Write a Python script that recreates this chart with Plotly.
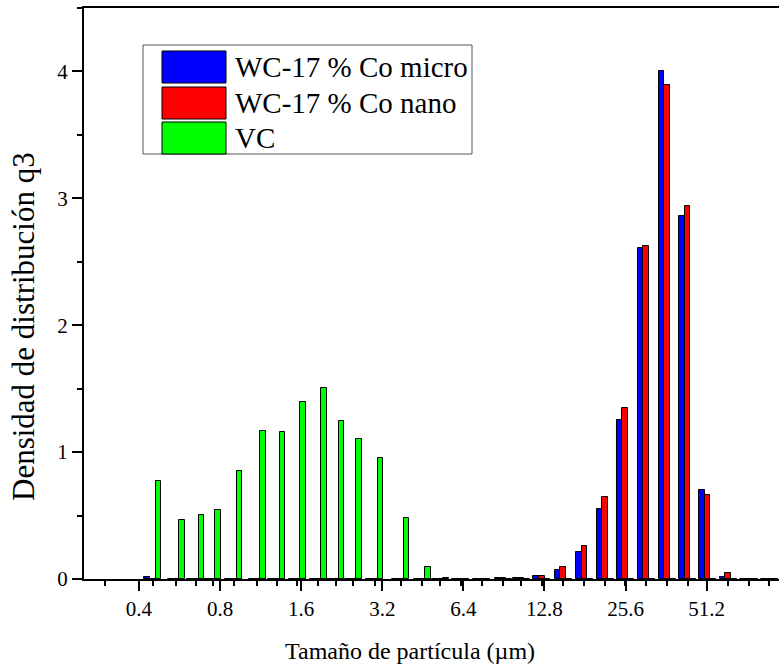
import numpy as np
import plotly.graph_objects as go

# Particle size classes (µm) and volume density distribution q3 per class
sizes = [0.45, 0.55, 0.65, 0.75, 0.90, 1.10, 1.30, 1.55, 1.85, 2.15, 2.50, 3.00,
         3.75, 4.50, 5.25, 6.25, 7.50, 9.00, 10.5, 12.5, 15.0, 18.0, 21.5, 25.5,
         30.5, 36.5, 43.5, 51.5, 61.5, 73.5, 87.5]

wc_micro = [0.012, 0, 0, 0, 0, 0, 0, 0, 0, 0, 0, 0,
            0, 0, 0, 0, 0.003, 0.006, 0.008, 0.026, 0.071, 0.21, 0.55, 1.25,
            2.61, 4.00, 2.86, 0.70, 0.018, 0, 0]

wc_nano = [0, 0, 0, 0, 0, 0, 0, 0, 0, 0, 0, 0,
           0, 0, 0, 0, 0.002, 0.004, 0.007, 0.024, 0.092, 0.262, 0.648, 1.344,
           2.622, 3.895, 2.94, 0.659, 0.045, 0, 0]

vc = [0.77, 0.465, 0.506, 0.54, 0.848, 1.163, 1.157, 1.394, 1.504, 1.244, 1.105, 0.95,
      0.478, 0.092, 0.004, 0, 0, 0, 0, 0, 0, 0, 0, 0,
      0, 0, 0, 0, 0, 0, 0]

series_names = ["WC-17 % Co micro", "WC-17 % Co nano", "VC"]
series_colors = ["#0000FF", "#FF0000", "#00FF00"]

tick_sizes = [0.4, 0.8, 1.6, 3.2, 6.4, 12.8, 25.6, 51.2]
tick_labels = ["0.4", "0.8", "1.6", "3.2", "6.4", "12.8", "25.6", "51.2"]
extra_minor = [0.3]

# Log2 size axis drawn on a linear scale of log2(size)
xpos = np.log2(sizes)
bar_w = 0.07
offsets = [-1.5 * bar_w, -0.5 * bar_w, 0.5 * bar_w]

FONT = "Liberation Serif"
W, H = 779, 670
L, R, T, B = 84, 0, 8, 91

fig = go.Figure()
for vals, name, col, off in zip([wc_micro, wc_nano, vc], series_names, series_colors, offsets):
    fig.add_trace(go.Bar(
        x=xpos, y=vals, name=name, width=bar_w, offset=off,
        marker=dict(color=col, line=dict(color="black", width=1)),
        showlegend=False,
    ))

# Legend box with large swatches
pw, ph = W - L - R, H - T - B
def px_x(p):
    return (p - L) / pw
def px_y(p):
    return (H - B - p) / ph

shapes = [dict(type="rect", xref="paper", yref="paper",
               x0=px_x(143), x1=px_x(472), y0=px_y(154), y1=px_y(45),
               line=dict(color="#555555", width=1), fillcolor="white", layer="above")]
annotations = []
row_tops = [51, 87, 122]
for top, name, col in zip(row_tops, series_names, series_colors):
    shapes.append(dict(type="rect", xref="paper", yref="paper",
                       x0=px_x(162), x1=px_x(226), y0=px_y(top + 32), y1=px_y(top),
                       line=dict(color="black", width=1), fillcolor=col, layer="above"))
    annotations.append(dict(xref="paper", yref="paper", x=px_x(233), y=px_y(top + 16),
                            text=name, showarrow=False, xanchor="left", yanchor="middle",
                            font=dict(family=FONT, size=29, color="black")))

annotations.append(dict(xref="paper", yref="paper", x=px_x(410), y=px_y(651),
                        text="Tamaño de partícula (µm)", showarrow=False,
                        xanchor="center", yanchor="middle",
                        font=dict(family=FONT, size=24, color="black")))
annotations.append(dict(xref="paper", yref="paper", x=px_x(23), y=px_y(327),
                        text="Densidad de distribución q3", showarrow=False, textangle=-90,
                        xanchor="center", yanchor="middle",
                        font=dict(family=FONT, size=31, color="black")))

minor_vals = list(np.log2(sizes)) + list(np.log2(extra_minor))

fig.update_layout(
    width=W, height=H,
    margin=dict(l=L, r=R, t=T, b=B, pad=0),
    paper_bgcolor="white", plot_bgcolor="white",
    barmode="overlay", bargap=0,
    shapes=shapes, annotations=annotations,
    font=dict(family=FONT, color="black"),
    xaxis=dict(
        range=[-2.0, -2.0 + pw / 81.1],
        tickmode="array", tickvals=list(np.log2(tick_sizes)), ticktext=tick_labels,
        ticks="outside", ticklen=10, tickwidth=2, tickcolor="black",
        showline=True, linecolor="black", linewidth=2, mirror=True,
        showgrid=False, zeroline=False,
        tickfont=dict(family=FONT, size=21, color="black"),
        minor=dict(tickmode="array", tickvals=minor_vals, ticks="outside",
                   ticklen=5, tickwidth=1.5, tickcolor="black", showgrid=False),
    ),
    yaxis=dict(
        range=[0, 4.5],
        tickmode="linear", tick0=0, dtick=1,
        ticks="outside", ticklen=10, tickwidth=2, tickcolor="black",
        showline=True, linecolor="black", linewidth=2, mirror=False,
        showgrid=False, zeroline=False,
        tickfont=dict(family=FONT, size=21, color="black"),
        minor=dict(dtick=0.5, ticks="outside", ticklen=5, tickwidth=1.5,
                   tickcolor="black", showgrid=False),
    ),
)

fig.write_html("out.html")
